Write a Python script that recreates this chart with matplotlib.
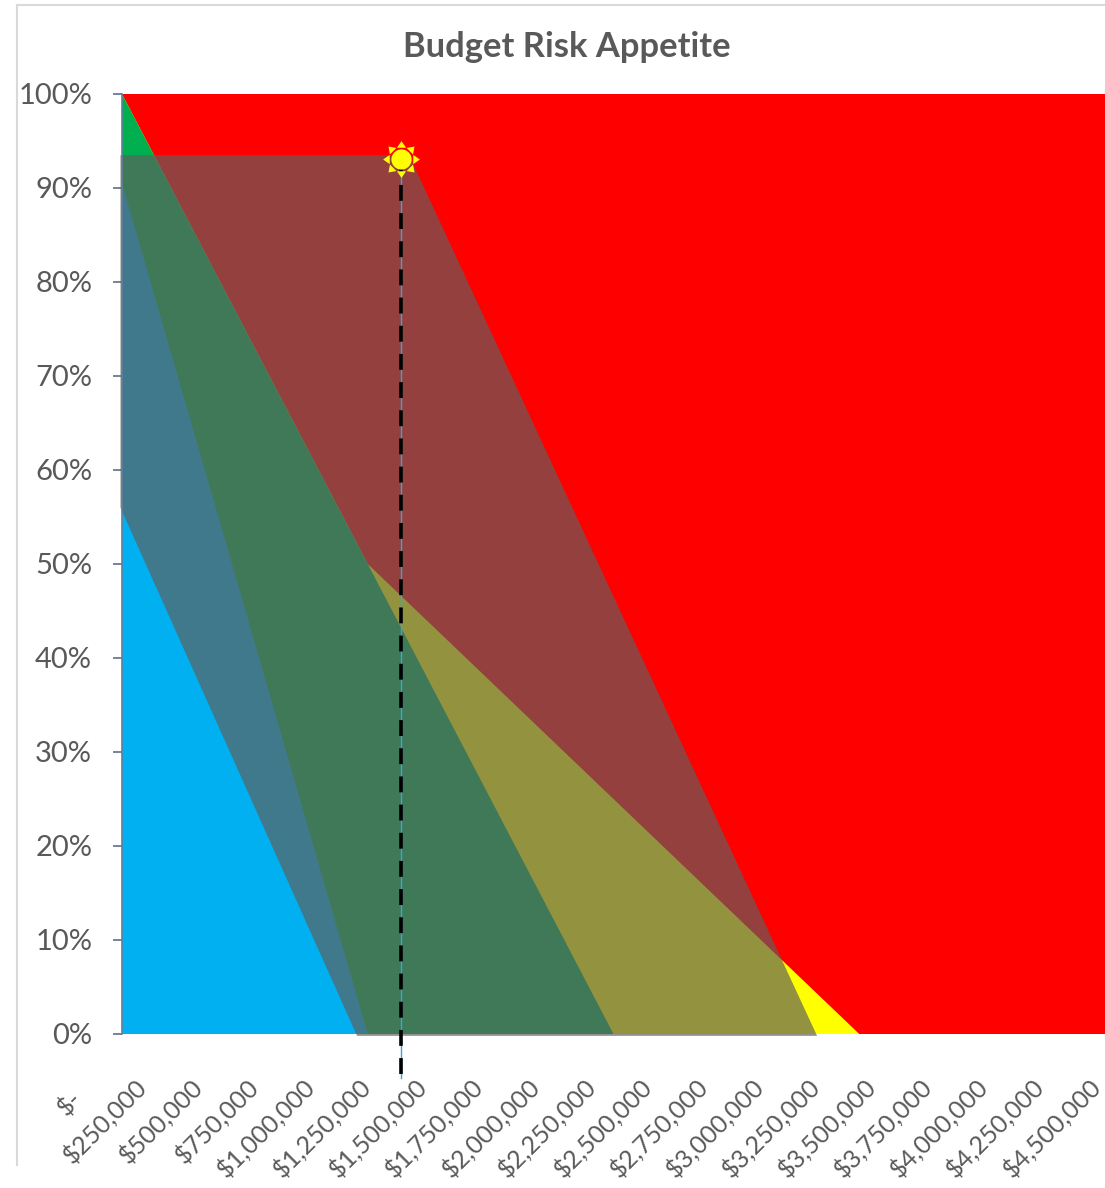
import numpy as np
import matplotlib
matplotlib.use('Agg')
from matplotlib import pyplot as plt
from matplotlib.lines import Line2D
from matplotlib.path import Path
from matplotlib.transforms import ScaledTranslation

# Dados
x_ticks = [0, 250000, 500000, 750000, 1000000, 1250000, 1500000, 1750000, 2000000, 2250000,
           2500000, 2750000, 3000000, 3250000, 3500000, 3750000, 4000000, 4250000, 4500000]
x_labels = ['$-', '$250,000', '$500,000', '$750,000', '$1,000,000', '$1,250,000', '$1,500,000',
            '$1,750,000', '$2,000,000', '$2,250,000', '$2,500,000', '$2,750,000', '$3,000,000',
            '$3,250,000', '$3,500,000', '$3,750,000', '$4,000,000', '$4,250,000', '$4,500,000']
y_ticks = [0, .1, .2, .3, .4, .5, .6, .7, .8, .9, 1]

red_x = [0, 4500000, 4500000, 0]
red_y = [1, 1, 0, 0]
yellow_x = [0, 1125000, 3375000, 0]
yellow_y = [1, .5, 0, 0]
green_x = [0, 2250000, 0]
green_y = [1, 0, 0]
blue_x = [0, 1125000, 0]
blue_y = [.905, 0, 0]
budget_x = [-7000, 1076000, 3182000, 1314000, -7000]
budget_y = [.56, -.002, -.002, .935, .935]

point_x = 1277000
point_y = .931
line_bottom = -.047

W, H = 1105, 1188
GRAY = '#595959'
plt.rcParams['font.family'] = ['Lato', 'DejaVu Sans']


def sun_marker():
    # circulo com 8 raios, usado como marcador
    parts = [Path.circle((0, 0), .55)]
    for a in np.arange(8) * np.pi / 4:
        c, s = np.cos(a), np.sin(a)
        parts.append(Path([(.64 * c - .25 * s, .64 * s + .25 * c), (c, s),
                           (.64 * c + .25 * s, .64 * s - .25 * c), (0, 0)],
                          [Path.MOVETO, Path.LINETO, Path.LINETO, Path.CLOSEPOLY]))
    return Path.make_compound_path(*parts)


fig = plt.figure(figsize=(W / 100, H / 100), dpi=100)
ax = fig.add_axes([122 / W, 1 - 1034 / H, 983 / W, 940 / H])

# Camadas das areas
ax.fill(red_x, red_y, color='#FF0000', lw=0)
ax.fill(yellow_x, yellow_y, color='#FFFF00', lw=0)
ax.fill(green_x, green_y, color='#00B050', lw=0)
ax.fill(blue_x, blue_y, color='#00B0F0', lw=0)
ax.fill(budget_x, budget_y, color='#605F5D', alpha=.68, lw=0, zorder=3, clip_on=False)

# Linha tracejada ate o ponto
ax.plot([point_x, point_x], [line_bottom, point_y], color='#2FA8DC', lw=1, clip_on=False, zorder=4)
ax.plot([point_x, point_x], [line_bottom + .004, point_y], color='black', lw=2.6, clip_on=False, zorder=5,
        dashes=(4.4, 3.4), dash_capstyle='butt')

# Sol
ax.scatter([point_x], [point_y], marker=sun_marker(), s=700, color='#FFFF00', lw=0, clip_on=False, zorder=6)

ax.set_xlim(0, 4500000)
ax.set_ylim(0, 1)
ax.set_xticks([])
ax.set_yticks(y_ticks)
ax.set_yticklabels(['%d%%' % round(v * 100) for v in y_ticks])
ax.tick_params(axis='y', length=6.5, width=1.2, color='#5F6E8C', labelsize=21, labelcolor=GRAY, pad=15)
for lab in ax.get_yticklabels():
    lab.set_transform(lab.get_transform() + ScaledTranslation(0, 1 / 100, fig.dpi_scale_trans))
for s in ['top', 'right', 'bottom']:
    ax.spines[s].set_visible(False)
ax.spines['left'].set_color('#5F7F9C')
ax.spines['left'].set_linewidth(1.2)
ax.spines['left'].set_zorder(8)

# Os rotulos de x tem espacamento proprio, entao ficam em outro eixo
ax2 = fig.add_axes([95 / W, 1 - 1034 / H, 1010 / W, 940 / H], frameon=False)
ax2.set_xlim(0, 4500000)
ax2.set_yticks([])
ax2.set_xticks(x_ticks)
ax2.set_xticklabels(x_labels, rotation=45, ha='right', va='top')
ax2.tick_params(axis='x', length=0, labelsize=18, labelcolor=GRAY, pad=29)
first = ax2.get_xticklabels()[0]
first.set_transform(first.get_transform() + ScaledTranslation(-9 / 100, -12 / 100, fig.dpi_scale_trans))

fig.text(567 / W, 1 - 47 / H, 'Budget Risk Appetite', ha='center', va='center',
         fontsize=24.8, fontweight='bold', color=GRAY)

# Borda do grafico
fig.add_artist(Line2D([17 / W, 17 / W], [1 - 1165 / H, 1 - 5 / H], color='#D9D9D9', lw=1.5))
fig.add_artist(Line2D([17 / W, 1], [1 - 5 / H, 1 - 5 / H], color='#D9D9D9', lw=1.5))

fig.savefig('out.png', dpi=100)
